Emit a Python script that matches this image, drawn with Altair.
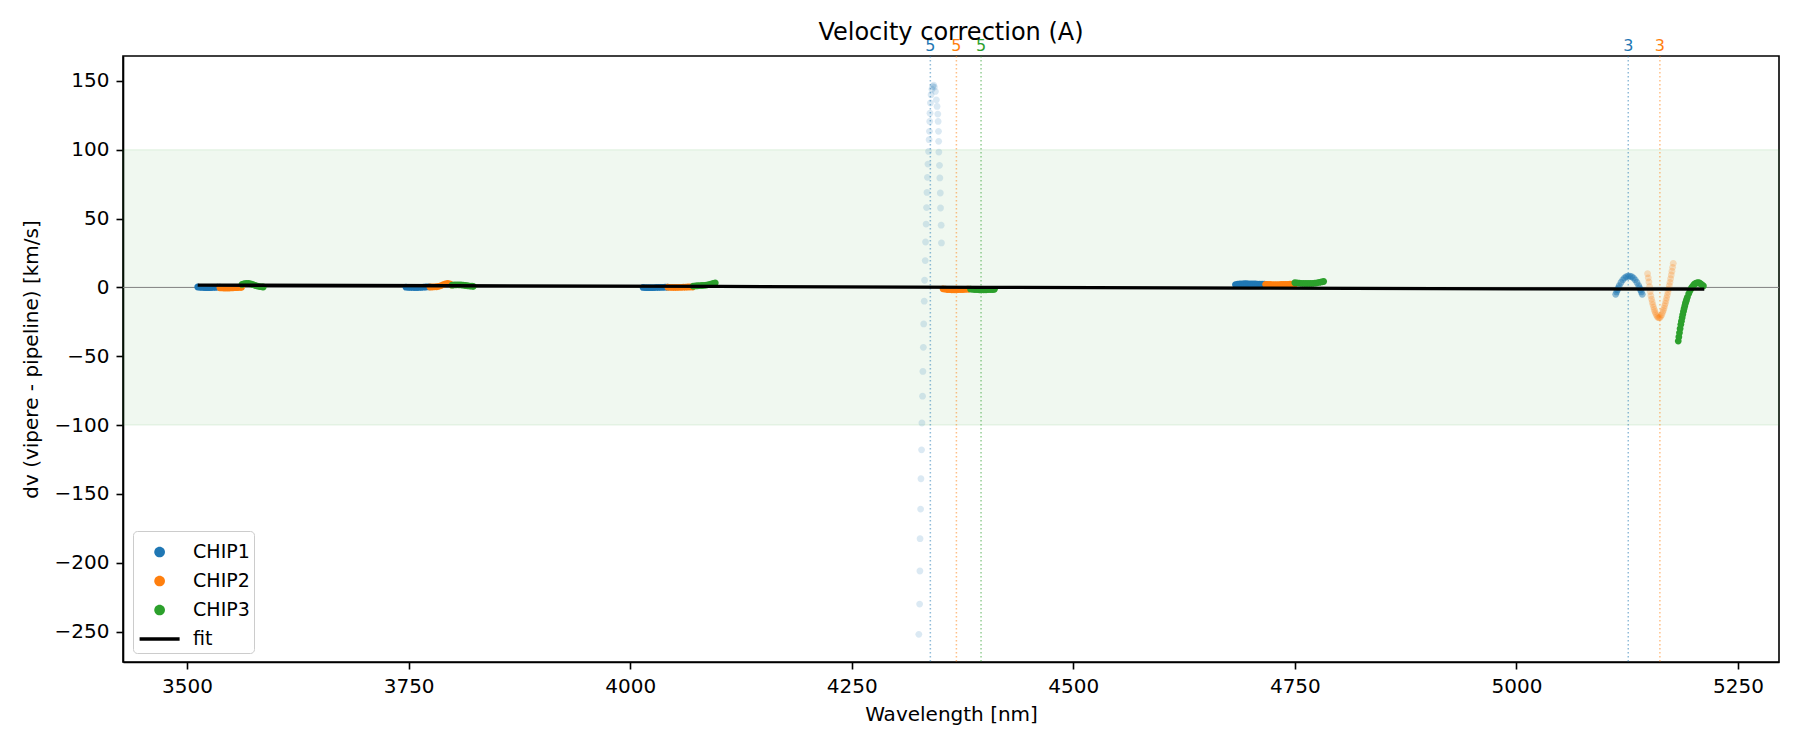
import altair as alt
import pandas as pd

# ---------------- data ----------------
CHIPS = ["CHIP1", "CHIP2", "CHIP3"]

# CHIP1
c1_seg1_x = [3512, 3514.5, 3517, 3519.5, 3522, 3524.5, 3527, 3529.5, 3532, 3534.5, 3537]
c1_seg1_y = [0.3, 0.1, 0.0, -0.1, -0.2, -0.2, -0.1, 0.0, 0.1, 0.2, 0.2]
c1_seg2_x = [3747, 3749.5, 3752, 3754.5, 3757, 3759.5, 3762, 3764.5, 3767, 3769.5, 3772, 3774]
c1_seg2_y = [0.2, 0.1, 0.0, 0.0, -0.1, -0.1, 0.0, 0.1, 0.2, 0.3, 0.4, 0.4]
c1_seg3_x = [4014.5, 4017, 4019.5, 4022, 4024.5, 4027, 4029.5, 4032, 4034.5, 4037, 4039.5, 4042]
c1_seg3_y = [0.0, -0.1, -0.2, -0.2, -0.2, -0.1, 0.0, 0.0, 0.1, 0.1, 0.2, 0.2]
c1_spike_x = [4325.7, 4326.6, 4326.9, 4327.1, 4327.7, 4328.1, 4328.8, 4329.2, 4329.9, 4330.3,
              4330.8, 4331.2, 4331.8, 4332.2, 4332.9, 4333.3, 4333.9, 4334.4, 4334.9, 4335.4,
              4336.0, 4336.7, 4337.3, 4337.7, 4338.0, 4338.3, 4338.8, 4339.5, 4340.5, 4341.5,
              4342.5, 4343.3, 4344.4, 4345.5, 4346.3, 4347.1, 4347.5, 4347.9, 4348.1, 4348.3,
              4349.0, 4349.4, 4349.9, 4350.2, 4350.9, 4351.2]
c1_spike_y = [-252.0, -230.0, -206.0, -182.5, -161.0, -139.0, -118.0, -98.5, -79.0, -61.0,
              -43.5, -26.5, -10.0, 5.2, 19.5, 33.0, 46.0, 58.0, 69.0, 80.0,
              89.6, 98.8, 107.3, 113.4, 120.6, 126.6, 134.0, 140.0, 144.0, 146.0,
              147.0, 145.5, 142.4, 136.3, 131.5, 125.9, 120.6, 113.4, 106.1, 98.3,
              88.7, 79.5, 68.6, 57.7, 45.2, 32.3]
c1_seg5_x = [4683, 4685.5, 4688, 4690.5, 4693, 4695.5, 4698, 4700.5, 4703, 4705.5, 4708, 4710.5, 4713, 4715.5, 4717]
c1_seg5_y = [2.0, 2.3, 2.5, 2.6, 2.7, 2.7, 2.6, 2.6, 2.5, 2.5, 2.4, 2.4, 2.3, 2.3, 2.2]
c1_arc_x = [5112, 5113, 5114, 5115, 5116, 5118, 5120, 5122, 5124, 5126, 5128, 5130, 5132, 5134,
            5136, 5138, 5139, 5140, 5141, 5142]
c1_arc_y = [-5.0, -3.3, -1.8, -0.3, 1.2, 3.6, 5.5, 6.9, 7.8, 8.2, 8.2, 7.8, 6.9, 5.5,
            3.6, 1.2, -0.3, -1.8, -3.3, -5.0]

# CHIP2
c2_seg1_x = [3537, 3539.5, 3542, 3544.5, 3547, 3549.5, 3552, 3554.5, 3557, 3559.5, 3561.5]
c2_seg1_y = [-0.3, -0.4, -0.5, -0.5, -0.5, -0.4, -0.3, -0.2, -0.1, 0.0, 0.1]
c2_seg2_x = [3774, 3776.5, 3779, 3781.5, 3784, 3786.5, 3789, 3791.5, 3794, 3796.5, 3798.5]
c2_seg2_y = [0.3, 0.3, 0.4, 0.5, 0.8, 1.3, 2.0, 2.6, 2.9, 2.6, 1.8]
c2_seg3_x = [4042.5, 4045, 4047.5, 4050, 4052.5, 4055, 4057.5, 4060, 4062.5, 4065, 4067.5, 4070.5]
c2_seg3_y = [0.2, 0.1, 0.0, 0.0, 0.0, 0.1, 0.1, 0.2, 0.2, 0.3, 0.3, 0.3]
c2_seg4_x = [4353, 4355.5, 4358, 4360.5, 4363, 4365.5, 4368, 4370.5, 4373, 4375.5, 4378, 4380.5, 4382]
c2_seg4_y = [-1.0, -1.3, -1.5, -1.6, -1.7, -1.7, -1.7, -1.6, -1.6, -1.5, -1.4, -1.3, -1.2]
c2_seg5_x = [4717, 4719.5, 4722, 4724.5, 4727, 4729.5, 4732, 4734.5, 4737, 4739.5, 4742, 4744.5, 4747, 4750]
c2_seg5_y = [2.2, 2.1, 2.1, 2.0, 2.0, 2.0, 2.0, 2.1, 2.1, 2.2, 2.2, 2.3, 2.4, 2.5]
c2_vee_x = [5148, 5148.75, 5149.5, 5150.25, 5151, 5151.75, 5152.5, 5153.25, 5154, 5154.75,
            5155.5, 5156.25, 5157, 5158, 5159, 5160, 5161, 5162, 5163, 5164, 5165, 5165.75,
            5166.5, 5167.25, 5168, 5168.75, 5169.5, 5170.25, 5171, 5171.75, 5172.5, 5173.25,
            5174, 5174.75, 5175.5, 5176.25, 5177]
c2_vee_y = [10.0, 7.0, 4.0, 0.5, -3.0, -6.0, -8.5, -10.6, -12.5, -14.3,
            -16.0, -17.5, -18.8, -20.2, -21.3, -21.9, -22.1, -21.8, -21.0, -19.8, -18.2, -16.7,
            -15.2, -13.4, -11.6, -9.7, -7.7, -5.6, -3.4, -1.2, 1.2, 3.7,
            6.3, 9.0, 11.8, 14.6, 17.5]

# CHIP3
c3_seg1_x = [3562, 3564.5, 3567, 3569.5, 3572, 3574.5, 3577, 3579.5, 3582, 3584.5, 3586]
c3_seg1_y = [2.2, 2.8, 3.0, 2.9, 2.5, 2.0, 1.4, 1.0, 0.6, 0.4, 0.3]
c3_seg2_x = [3799, 3801.5, 3804, 3806.5, 3809, 3811.5, 3814, 3816.5, 3819, 3821.5, 3823]
c3_seg2_y = [1.6, 1.8, 1.9, 1.9, 1.8, 1.6, 1.4, 1.2, 1.0, 0.9, 0.8]
c3_seg3_x = [4071, 4073.5, 4076, 4078.5, 4081, 4083.5, 4086, 4088.5, 4091, 4093.5, 4096]
c3_seg3_y = [1.0, 1.1, 1.2, 1.3, 1.4, 1.5, 1.7, 2.0, 2.4, 2.9, 3.2]
c3_seg4_x = [4384, 4386.5, 4389, 4391.5, 4394, 4396.5, 4399, 4401.5, 4404, 4406.5, 4409, 4411]
c3_seg4_y = [-1.2, -1.4, -1.5, -1.6, -1.7, -1.7, -1.7, -1.7, -1.6, -1.6, -1.5, -1.4]
c3_seg5_x = [4750, 4752.5, 4755, 4757.5, 4760, 4762.5, 4765, 4767.5, 4770, 4772.5, 4775, 4777.5, 4780, 4782.5]
c3_seg5_y = [3.4, 3.3, 3.1, 3.0, 2.9, 2.9, 2.9, 2.9, 3.0, 3.1, 3.3, 3.6, 4.0, 4.3]
c3_curve_x = [5182.6, 5183.3, 5184, 5184.7, 5185.5, 5186.2, 5187, 5187.7, 5188.5, 5189.2,
              5190, 5190.7, 5191.5, 5192.2, 5193, 5194.5, 5196, 5197.5, 5199, 5200.5,
              5202, 5203.5, 5205, 5206.5, 5208, 5209.5, 5211]
c3_curve_y = [-39.0, -36.0, -33.0, -30.0, -27.0, -24.5, -22.0, -19.7, -17.5, -15.5,
              -13.5, -11.7, -10.0, -8.5, -7.0, -4.5, -2.2, -0.4, 1.0, 2.1,
              2.9, 3.3, 3.4, 3.2, 2.6, 1.9, 1.1]

# fit
fit_x = [3512, 3800, 4100, 4400, 4700, 5000, 5212]
fit_y = [1.7, 1.2, 0.7, 0.1, -0.5, -1.0, -1.3]

# marked lines (chip, wavelength, label)
line_chip = ["CHIP1", "CHIP2", "CHIP3", "CHIP1", "CHIP2"]
line_wl = [4338.7, 4368.1, 4395.9, 5126.2, 5161.9]
line_label = ["5", "5", "5", "3", "3"]

# tolerance band
band_lo = [-100]
band_hi = [100]

# ---------------- styling ----------------
W, H = 1656, 606
X_DOMAIN = [3427.7, 5296.3]
Y_DOMAIN = [-272.1, 168.1]
COLORS = {"CHIP1": "#1f77b4", "CHIP2": "#ff7f0e", "CHIP3": "#2ca02c"}
FONT = "DejaVu Sans"
# symbol paths in unit coordinates: a small disc and a flat bar (for the "fit" legend entry)
DISC = "M-0.306,0A0.306,0.306,0,1,0,0.306,0A0.306,0.306,0,1,0,-0.306,0Z"
BAR = "M-1.143,-0.094L1.143,-0.094L1.143,0.094L-1.143,0.094Z"

segments = [
    ("CHIP1", "main", c1_seg1_x, c1_seg1_y), ("CHIP1", "main", c1_seg2_x, c1_seg2_y),
    ("CHIP1", "main", c1_seg3_x, c1_seg3_y), ("CHIP1", "spike", c1_spike_x, c1_spike_y),
    ("CHIP1", "main", c1_seg5_x, c1_seg5_y), ("CHIP1", "arc", c1_arc_x, c1_arc_y),
    ("CHIP2", "main", c2_seg1_x, c2_seg1_y), ("CHIP2", "main", c2_seg2_x, c2_seg2_y),
    ("CHIP2", "main", c2_seg3_x, c2_seg3_y), ("CHIP2", "main", c2_seg4_x, c2_seg4_y),
    ("CHIP2", "main", c2_seg5_x, c2_seg5_y), ("CHIP2", "vee", c2_vee_x, c2_vee_y),
    ("CHIP3", "main", c3_seg1_x, c3_seg1_y), ("CHIP3", "main", c3_seg2_x, c3_seg2_y),
    ("CHIP3", "main", c3_seg3_x, c3_seg3_y), ("CHIP3", "main", c3_seg4_x, c3_seg4_y),
    ("CHIP3", "main", c3_seg5_x, c3_seg5_y), ("CHIP3", "main", c3_curve_x, c3_curve_y),
]
pts = pd.DataFrame([
    {"wl": x, "dv": y, "chip": c, "seg": s}
    for c, s, xs, ys in segments for x, y in zip(xs, ys)
])
fit_df = pd.DataFrame({"wl": fit_x, "dv": fit_y})
lines_df = pd.DataFrame({"wl": line_wl, "chip": line_chip, "label": line_label,
                         "col": [COLORS[c] for c in line_chip]})
band_df = pd.DataFrame({"dv": band_lo, "hi": band_hi})
zero_df = pd.DataFrame({"dv": [0]})

XT = "Wavelength [nm]"
YT = "dv (vipere - pipeline) [km/s]"
xaxis = alt.Axis(title=XT, values=[3500, 3750, 4000, 4250, 4500, 4750, 5000, 5250], format="d")
yaxis = alt.Axis(title=YT, values=[-250, -200, -150, -100, -50, 0, 50, 100, 150], format="d",
                 titlePadding=13)
xscale = alt.Scale(domain=X_DOMAIN, nice=False, zero=False)
yscale = alt.Scale(domain=Y_DOMAIN, nice=False, zero=False)


def X(field="wl"):
    return alt.X(f"{field}:Q", scale=xscale, axis=xaxis, title=XT)


def Y(field="dv"):
    return alt.Y(f"{field}:Q", scale=yscale, axis=yaxis, title=YT)


band = alt.Chart(band_df).mark_rect(
    color="#2ca02c", fillOpacity=0.07, stroke="#2ca02c", strokeOpacity=0.08, strokeWidth=1.5
).encode(x=alt.value(0), x2=alt.value(W), y=Y(), y2="hi:Q")

zero = alt.Chart(zero_df).mark_rule(color="#808080", strokeWidth=1).encode(y=Y())

vlines = alt.Chart(lines_df).mark_rule(strokeWidth=1.5, strokeDash=[1.5, 2.5], opacity=0.5).encode(
    x=X(), stroke=alt.Stroke("col:N", scale=None)
)
vlabels = alt.Chart(lines_df).mark_text(fontSize=16, baseline="bottom", font=FONT).encode(
    x=X(), y=alt.value(-2), text="label:N", fill=alt.Fill("col:N", scale=None)
)

legend = alt.Legend(
    title=None, orient="none", legendX=10, legendY=475, padding=3.5,
    fillColor="rgba(255,255,255,0.8)", strokeColor="#cccccc", cornerRadius=4,
    labelFont=FONT, labelFontSize=19, labelColor="black", labelOffset=16, symbolOffset=5.6,
    symbolSize=1225, symbolOpacity=1, symbolStrokeWidth=0, rowPadding=1,
)
dom = CHIPS + ["fit"]
points = alt.Chart(pts).mark_point(filled=True, size=494, strokeWidth=0).encode(
    x=X(), y=Y(),
    color=alt.Color("chip:N", scale=alt.Scale(domain=dom, range=[COLORS[c] for c in CHIPS] + ["black"]),
                    legend=legend),
    shape=alt.Shape("chip:N", scale=alt.Scale(domain=dom, range=[DISC, DISC, DISC, BAR]),
                    legend=legend),
    opacity=alt.Opacity("seg:N", scale=alt.Scale(type="ordinal", domain=["main", "spike", "arc", "vee"],
                                                 range=[1.0, 0.16, 0.5, 0.25]), legend=None),
)
fit = alt.Chart(fit_df).mark_line(color="black", strokeWidth=3.3).encode(x=X(), y=Y())

chart = alt.layer(band, vlines, zero, points, fit, vlabels).properties(
    width=W, height=H,
    title=alt.TitleParams("Velocity correction (A)", fontSize=24, font=FONT, fontWeight="normal",
                          color="black", anchor="middle", offset=12, dy=19),
    autosize=alt.AutoSizeParams(type="none"),
    padding={"left": 115, "top": 48, "right": 10, "bottom": 80},
).configure(font=FONT).configure_view(
    stroke="black", strokeWidth=1.6
).configure_axis(
    grid=False, domainColor="black", domainWidth=1.6, tickColor="black", tickWidth=1.6, tickSize=7,
    labelPadding=7, labelFont=FONT, labelFontSize=20, labelColor="black",
    titleFont=FONT, titleFontSize=20, titleFontWeight="normal", titleColor="black", titlePadding=8,
)

chart.save("out.html", embed_options={"renderer": "svg", "actions": False})
